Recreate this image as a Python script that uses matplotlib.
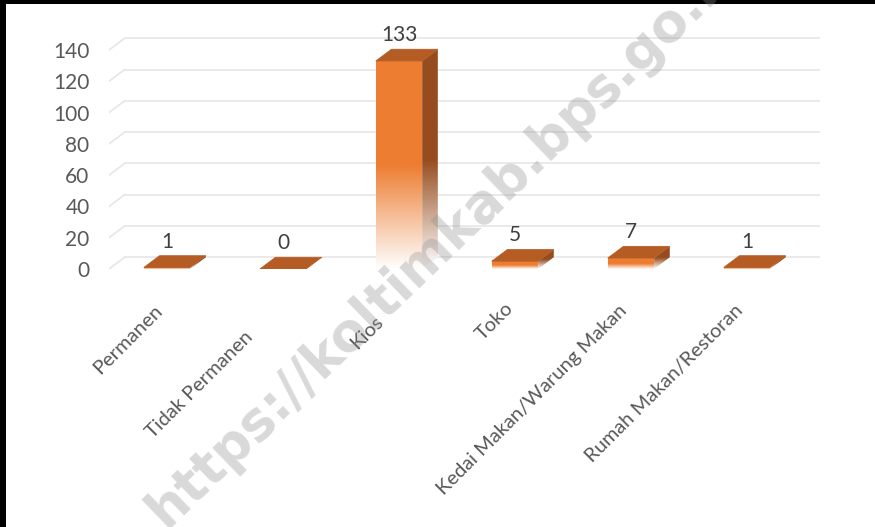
import matplotlib.pyplot as plt
import numpy as np
from matplotlib.patches import Polygon
from matplotlib.lines import Line2D
from matplotlib.colors import to_rgb

categories = ['Permanen', 'Tidak Permanen', 'Kios', 'Toko',
              'Kedai Makan/Warung Makan', 'Rumah Makan/Restoran']
values = [1, 0, 133, 5, 7, 1]
yticks = [0, 20, 40, 60, 80, 100, 120, 140]

plt.rcParams['font.family'] = ['Lato', 'DejaVu Sans']

front_c = to_rgb('#ED7D31')
side_c = to_rgb('#964C1E')
top_c = '#B45C24'
grid_c = '#E6E6E6'

fig = plt.figure(figsize=(8.75, 5.27), dpi=100)
ax = fig.add_axes([0.1246, 0.4896, 0.8125, 0.4452])

xmin, xmax = -0.5, 5.63
ymin, ymax = 0, 150
dx, dy = 0.135, 7.5      # 3d depth offset in data units
w = 0.40                 # bar width


def gradient(color, n=256):
    t = np.linspace(0, 1, n)
    k = np.clip(t / 0.5, 0, 1)[:, None]
    rgb = (1 - k) * np.ones(3) + k * np.array(color)
    return rgb[:, None, :]


# back wall gridlines with the small slanted front piece
for v in yticks:
    ax.plot([xmin, xmin + dx], [v, v + dy], color=grid_c, lw=1.2, zorder=0)
    ax.plot([xmin + dx, xmax], [v + dy, v + dy], color=grid_c, lw=1.2, zorder=0)

for i, v in enumerate(values):
    x0, x1 = i - w / 2, i + w / 2
    if v > 0:
        # side face
        side = Polygon([(x1, 0), (x1 + dx, dy), (x1 + dx, v + dy), (x1, v)],
                       closed=True, fc='none', ec='none')
        ax.add_patch(side)
        im = ax.imshow(gradient(side_c), origin='lower', aspect='auto',
                       extent=[x1, x1 + dx, 0, v + dy], interpolation='bilinear',
                       zorder=2)
        im.set_clip_path(side)
        # front face
        front = Polygon([(x0, 0), (x1, 0), (x1, v), (x0, v)], closed=True,
                        fc='none', ec='none')
        ax.add_patch(front)
        im = ax.imshow(gradient(front_c), origin='lower', aspect='auto',
                       extent=[x0, x1, 0, v], interpolation='bilinear', zorder=3)
        im.set_clip_path(front)
    # top face
    ax.add_patch(Polygon([(x0, v), (x1, v), (x1 + dx, v + dy), (x0 + dx, v + dy)],
                         closed=True, fc=top_c, ec=top_c, lw=0.5, zorder=4))
    ax.annotate(str(v), xy=(i, v + dy), xytext=(0, 3), textcoords='offset points',
                ha='center', va='bottom', fontsize=15, color='#404040', zorder=5)

# category labels (excel shifted a couple of them along their direction)
label_shift = [0, 37, 16, -4, 0, 0]
for i, (lab, s) in enumerate(zip(categories, label_shift)):
    ox = (-7 - 0.707 * s) * 0.72
    oy = (-39 - 0.707 * s) * 0.72
    ax.annotate(lab, xy=(i, 0), xytext=(ox, oy), textcoords='offset points',
                rotation=45, rotation_mode='anchor', ha='right', va='center',
                fontsize=14.5, color='#595959', annotation_clip=False)

ax.set_xlim(xmin, xmax)
ax.set_ylim(ymin, ymax)
ax.set_xticks([])
ax.set_yticks(yticks)
ax.set_yticklabels([str(t) for t in yticks])
ax.tick_params(axis='y', length=0, pad=14, labelsize=15, labelcolor='#595959')
for sp in ax.spines.values():
    sp.set_visible(False)
ax.patch.set_visible(False)

# watermark
fig.text(446 / 875, 1 - 238 / 527, 'https://koltimkab.bps.go.id', rotation=44,
         rotation_mode='anchor', ha='center', va='center', fontsize=38,
         family='DejaVu Sans', fontweight='bold', color='#8c8c8c', alpha=0.33,
         zorder=10)

# frame (left and top edges)
fig.add_artist(Line2D([3 / 875, 3 / 875], [0, 1], color='black', lw=4.3))
fig.add_artist(Line2D([0, 1], [1 - 2 / 527, 1 - 2 / 527], color='black', lw=2.9))

fig.savefig('out.png', dpi=100)
